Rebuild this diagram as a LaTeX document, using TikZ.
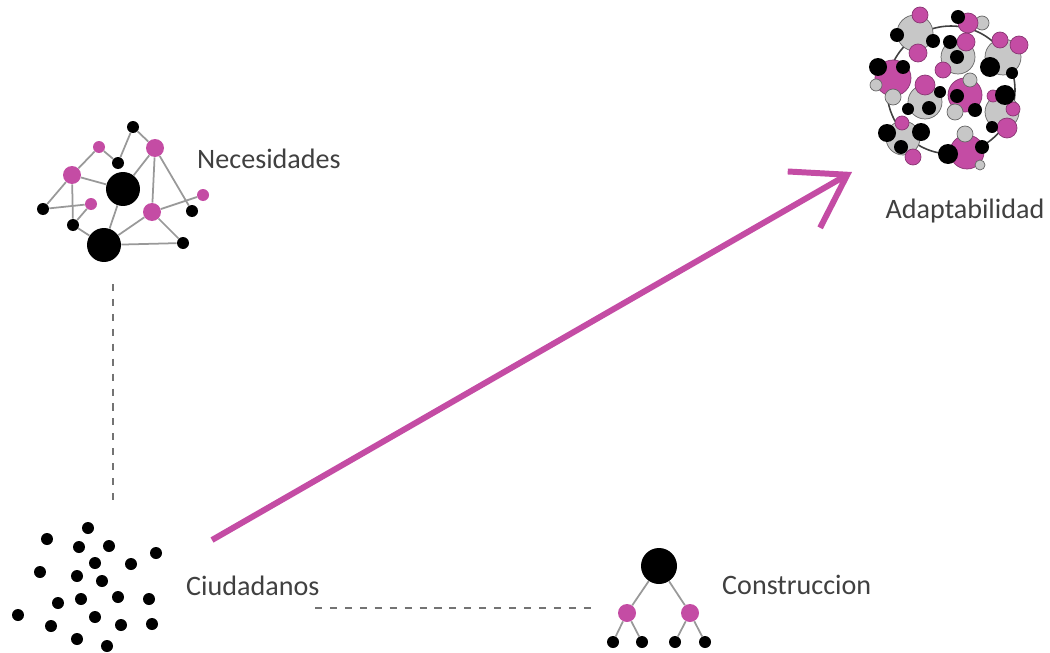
\documentclass[tikz,border=0pt]{standalone}
\usepackage{fontspec}
\setmainfont{Carlito}
\usetikzlibrary{arrows.meta}
\definecolor{mag}{RGB}{196,76,164}
\definecolor{txt}{RGB}{64,64,64}

\begin{document}
\begin{tikzpicture}[x=0.02cm, y=-0.02cm,
  blk/.style={inner sep=0pt, minimum size=#1, fill=black, circle},
  pnk/.style={inner sep=0pt, minimum size=#1, fill=mag, circle},
  pnko/.style={pnk=#1, draw=mag!70!black, line width=.4pt},
  gry/.style={inner sep=0pt, minimum size=#1, fill=black!22, draw=black!60, line width=.4pt, circle},
  ln/.style={black!40, line width=1pt},
  lbl/.style={text=txt, font=\fontsize{16}{19}\selectfont},
  dsh/.style={black!55, line width=.8pt, dash pattern=on 4pt off 4.5pt}]
\useasboundingbox (0,0) rectangle (1050,652);

% necesidades
\node[blk=.24cm] (n1) at (133,127) {};
\node[pnk=.24cm] (n2) at (99,147) {};
\node[pnk=.36cm] (n3) at (155,148) {};
\node[blk=.24cm] (n4) at (118,163) {};
\node[pnk=.36cm] (n5) at (72,175) {};
\node[blk=.68cm] (n6) at (123,189) {};
\node[pnk=.24cm] (n7) at (203,195) {};
\node[blk=.24cm] (n8) at (43,209) {};
\node[pnk=.24cm] (n9) at (91,204) {};
\node[pnk=.36cm] (n10) at (152,212) {};
\node[blk=.24cm] (n11) at (192,211) {};
\node[blk=.24cm] (n12) at (73,225) {};
\node[blk=.68cm] (n13) at (104,245) {};
\node[blk=.24cm] (n14) at (183,243) {};
\foreach \a/\b in {n1/n3,n1/n4,n2/n4,n2/n5,n5/n6,n5/n8,n5/n12,n8/n9,n9/n12,
  n6/n3,n6/n13,n3/n10,n3/n11,n10/n7,n10/n13,n10/n14,n13/n14,n12/n13}
  \draw[ln] (\a) -- (\b);
\node[lbl, anchor=west] (lnec) at (191,159) {Necesidades};

% ciudadanos
\foreach \x/\y [count=\i] in {88/528,47/539,79/547,109/546,156/553,95/563,131/564,
  40/572,77/576,102/581,58/603,81/599,118/597,149/599,18/615,95/617,51/626,
  121/625,152/624,77/639,107/646}
  \node[blk=.24cm] (c\i) at (\x,\y) {};
\node[lbl, anchor=west] (lciu) at (180,586) {Ciudadanos};

% construccion
\node[blk=.72cm] (t0) at (659,566) {};
\node[pnk=.36cm] (t1) at (627,613) {};
\node[pnk=.36cm] (t2) at (690,613) {};
\node[blk=.24cm] (t3) at (613,642) {};
\node[blk=.24cm] (t4) at (642,642) {};
\node[blk=.24cm] (t5) at (675,642) {};
\node[blk=.24cm] (t6) at (705,642) {};
\foreach \a/\b in {t0/t1,t0/t2,t1/t3,t1/t4,t2/t5,t2/t6}
  \draw[ln] (\a) -- (\b);
\node[lbl, anchor=west] (lcon) at (716,585) {Construccion};

% adaptabilidad
\node[circle, draw=black!75, line width=.9pt, minimum size=2.56cm] (ring) at (951,90) {};
\foreach \x/\y/\s [count=\i] in {915/33/.72,958/57/.68,1003/57/.72,925/102/.68,
  1002/112/.68,903/138/.68}
  \node[gry=\s cm] (g\i) at (\x,\y) {};
\foreach \x/\y/\s [count=\i] in {893/78/.72,965/95/.68,967/152/.68}
  \node[pnko=\s cm] (p\i) at (\x,\y) {};
\foreach \x/\y/\s [count=\i] in {982/23/.28,876/85/.24,893/97/.32,970/80/.28,
  955/112/.32,965/134/.32,980/165/.2}
  \node[gry=\s cm] (gs\i) at (\x,\y) {};
\foreach \x/\y/\s [count=\i] in {920/15/.32,918/53/.36,968/23/.4,966/42/.36,
  943/70/.32,1000/40/.32,1019/45/.36,925/85/.4,1013/109/.28,1007/128/.4,
  993/96/.24,902/123/.28,913/157/.32}
  \node[pnko=\s cm] (ps\i) at (\x,\y) {};
\foreach \x/\y/\s [count=\i] in {897/35/.28,933/41/.28,958/17/.28,950/42/.28,
  957/57/.28,990/67/.4,1012/73/.24,878/67/.36,903/67/.28,940/92/.24,929/108/.28,
  908/109/.24,957/96/.28,975/110/.28,1005/95/.4,992/127/.24,887/133/.36,
  921/132/.36,901/147/.28,948/154/.4,982/147/.28}
  \node[blk=\s cm] (b\i) at (\x,\y) {};
\node[lbl] (lada) at (965,211) {Adaptabilidad};

% links
\coordinate (nbot) at (113,284);
\coordinate (ctop) at (113,500);
\draw[dsh] (nbot) -- (ctop);
\coordinate (cend) at (315,608);
\coordinate (tend) at (594,608);
\draw[dsh] (cend) -- (tend);
\coordinate (ast) at (212,540);
\coordinate (atip) at (852,172);
\draw[mag, line width=3.4pt, -{Straight Barb[length=1cm, width=1.3cm]}] (ast) -- (atip);
\end{tikzpicture}
\end{document}
